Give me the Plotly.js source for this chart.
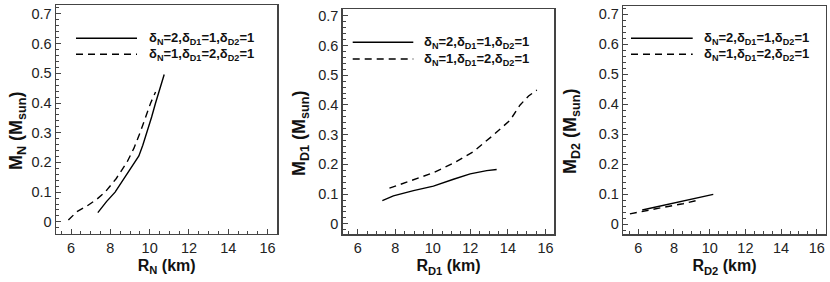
<!DOCTYPE html>
<html>
<head>
<meta charset="utf-8">
<script src="https://cdn.plot.ly/plotly-3.0.1.min.js"></script>
<style>html,body{margin:0;padding:0;background:#fff}#plot{width:830px;height:282px}</style>
</head>
<body>
<div id="plot"></div>
<script>
// Panel 1: M_N vs R_N
const rN_a = [7.36, 7.8, 8.24, 8.75, 9.26, 9.45, 9.65, 9.86, 10.1, 10.3, 10.5, 10.74];
const mN_a = [0.031, 0.068, 0.1, 0.15, 0.2, 0.222, 0.258, 0.3, 0.353, 0.4, 0.445, 0.496];
const rN_b = [5.86, 6.29, 6.8, 7.31, 7.73, 8.3, 8.84, 9.2, 9.51, 9.8, 10.05, 10.3];
const mN_b = [0.006, 0.034, 0.053, 0.076, 0.1, 0.146, 0.2, 0.248, 0.3, 0.352, 0.4, 0.437];
// Panel 2: M_D1 vs R_D1
const rD1_a = [7.31, 7.9, 8.97, 10.03, 11.1, 11.99, 12.87, 13.4];
const mD1_a = [0.078, 0.094, 0.112, 0.127, 0.15, 0.168, 0.179, 0.183];
const rD1_b = [7.69, 8.97, 10.03, 11.1, 12.16, 13.23, 14.12, 14.65, 15.1, 15.54];
const mD1_b = [0.12, 0.148, 0.172, 0.204, 0.243, 0.299, 0.349, 0.4, 0.43, 0.45];
// Panel 3: M_D2 vs R_D2
const rD2_a = [6.22, 7.2, 8.24, 9.2, 10.2];
const mD2_a = [0.047, 0.06, 0.074, 0.087, 0.099];
const rD2_b = [5.53, 6.5, 7.5, 8.5, 9.36];
const mD2_b = [0.034, 0.046, 0.057, 0.068, 0.08];

const legendA = "<b>δ<sub>N</sub>=2,δ<sub>D1</sub>=1,δ<sub>D2</sub>=1</b>";
const legendB = "<b>δ<sub>N</sub>=1,δ<sub>D1</sub>=2,δ<sub>D2</sub>=1</b>";
const xTitles = ["<b>R<sub>N</sub> (km)</b>", "<b>R<sub>D1</sub> (km)</b>", "<b>R<sub>D2</sub> (km)</b>"];
const yTitles = ["<b>M<sub>N</sub> (M<sub>sun</sub>)</b>", "<b>M<sub>D1</sub> (M<sub>sun</sub>)</b>", "<b>M<sub>D2</sub> (M<sub>sun</sub>)</b>"];

const W = 830, H = 282;
const px = v => v / W, py = v => 1 - v / H;

const panels = [
  {x0: 56, x1: 277.3, top: 5, bot: 233.7, yr: [-0.040, 0.730], yt: {x: 17, y: 131}, leg: {l0: 76, l1: 137, ya: 38.3, yb: 54.3, tx: 147}},
  {x0: 342.7, x1: 554.3, top: 9, bot: 234, yr: [-0.034, 0.7225], yt: {x: 300, y: 133}, leg: {l0: 352.7, l1: 413.3, ya: 42.3, yb: 59, tx: 422}},
  {x0: 623.3, x1: 825.7, top: 6, bot: 234, yr: [-0.033, 0.727], yt: {x: 571, y: 131}, leg: {l0: 631, l1: 692.7, ya: 38.3, yb: 54.3, tx: 702}}
];
const xr = [[5.23, 16.5], [5.2, 16.47], [5.16, 16.5]];

const series = [[rN_a, mN_a, rN_b, mN_b], [rD1_a, mD1_a, rD1_b, mD1_b], [rD2_a, mD2_a, rD2_b, mD2_b]];
const traces = [];
const layout = {
  width: W, height: H, margin: {l: 0, r: 0, t: 0, b: 0},
  paper_bgcolor: '#fff', plot_bgcolor: '#fff', showlegend: false,
  font: {family: 'Liberation Sans, Arial, sans-serif', color: '#222', size: 14},
  shapes: [], annotations: []
};
series.forEach((s, i) => {
  const n = i === 0 ? '' : String(i + 1);
  const xa = 'x' + n, ya = 'y' + n;
  traces.push({x: s[0], y: s[1], xaxis: xa, yaxis: ya, mode: 'lines', line: {color: '#000', width: 1.4}});
  traces.push({x: s[2], y: s[3], xaxis: xa, yaxis: ya, mode: 'lines', line: {color: '#000', width: 1.4, dash: '7px,5px'}});
  const p = panels[i];
  const common = {showline: true, mirror: true, linecolor: '#444', linewidth: 1.5, showgrid: false, zeroline: false,
    ticks: 'inside', ticklen: 5, tickwidth: 1, tickcolor: '#444', tickfont: {size: 14.5, color: '#222'}};
  layout['xaxis' + n] = Object.assign({}, common, {
    domain: [px(p.x0), px(p.x1)], anchor: ya, range: xr[i], dtick: 2, tick0: 0,
    minor: {ticks: 'inside', ticklen: 3, dtick: 0.5, tickcolor: '#444'},
    title: {text: xTitles[i], font: {size: 16, color: '#111'}, standoff: 5}
  });
  layout['yaxis' + n] = Object.assign({}, common, {
    domain: [py(p.bot), py(p.top)], anchor: xa, range: p.yr, dtick: 0.1, tick0: 0, tickformat: '.1~f',
    minor: {ticks: 'inside', ticklen: 3, dtick: 0.02, tickcolor: '#444'}
  });
  layout.annotations.push({xref: 'paper', yref: 'paper', x: px(p.yt.x), y: py(p.yt.y), xanchor: 'center', yanchor: 'middle',
    textangle: -90, showarrow: false, text: yTitles[i], font: {size: 18, color: '#111'}});
  const L = p.leg;
  layout.shapes.push({type: 'line', xref: 'paper', yref: 'paper', x0: px(L.l0), x1: px(L.l1), y0: py(L.ya), y1: py(L.ya), line: {color: '#000', width: 1.4}});
  layout.shapes.push({type: 'line', xref: 'paper', yref: 'paper', x0: px(L.l0), x1: px(L.l1), y0: py(L.yb), y1: py(L.yb), line: {color: '#000', width: 1.4, dash: '7px,5px'}});
  layout.annotations.push({xref: 'paper', yref: 'paper', x: px(L.tx), y: py(L.ya), xanchor: 'left', yanchor: 'middle', showarrow: false, text: legendA, font: {size: 13, color: '#111'}});
  layout.annotations.push({xref: 'paper', yref: 'paper', x: px(L.tx), y: py(L.yb), xanchor: 'left', yanchor: 'middle', showarrow: false, text: legendB, font: {size: 13, color: '#111'}});
});
Plotly.newPlot('plot', traces, layout, {staticPlot: true});
</script>
</body>
</html>
